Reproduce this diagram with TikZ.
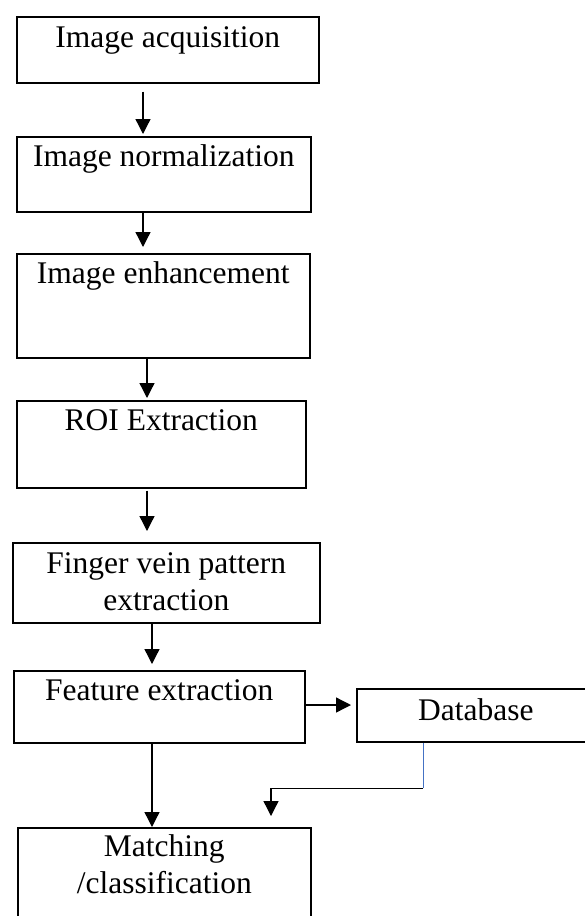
\documentclass[tikz,border=0pt]{standalone}
\usepackage{fontspec}
\setmainfont{Liberation Serif}
\usetikzlibrary{arrows.meta}
\begin{document}
\begin{tikzpicture}[x=1pt,y=-1pt,
  box/.style={draw, line width=1.6pt, inner sep=0pt, anchor=north west},
  lbl/.style={font=\fontsize{31.5}{37}\selectfont, align=center, anchor=base, inner sep=0pt},
  arr/.style={line width=1.3pt, -{Triangle[length=15pt,width=15pt]}},
  link/.style={line width=1pt},
  dblink/.style={line width=1pt, draw={rgb,255:red,68;green,114;blue,196}}]
\clip (0,0) rectangle (585,916);

% process boxes
\node[box, minimum width=302pt, minimum height=66pt]  (b1) at (16,16)  {};
\node[box, minimum width=294pt, minimum height=75pt]  (b2) at (16,136) {};
\node[box, minimum width=293pt, minimum height=104pt] (b3) at (16,253) {};
\node[box, minimum width=289pt, minimum height=87pt]  (b4) at (16,400) {};
\node[box, minimum width=307pt, minimum height=80pt]  (b5) at (12,542) {};
\node[box, minimum width=291pt, minimum height=72pt]  (b6) at (13,670) {};
\node[box, minimum width=238pt, minimum height=53pt]  (db) at (356,688) {};
\node[box, minimum width=293pt, minimum height=110pt] (b8) at (17,827) {};

% labels, set near the top of each box (base = last line)
\node[lbl] (t1) at ([yshift=-31pt]b1.north) {Image acquisition};
\node[lbl] (t2) at ([yshift=-30pt]b2.north) {Image normalization};
\node[lbl] (t3) at ([yshift=-30pt]b3.north) {Image enhancement};
\node[lbl] (t4) at ([yshift=-30pt]b4.north) {ROI Extraction};
\node[lbl] (t5) at ([yshift=-68pt]b5.north) {Finger vein pattern\\extraction};
\node[lbl] (t6) at ([yshift=-30pt]b6.north) {Feature extraction};
\node[lbl] (t7) at ([yshift=-32pt]db.north) {Database};
\node[lbl] (t8) at ([yshift=-66pt]b8.north) {Matching\\/classification};

% x positions of the vertical arrows
\coordinate (c1) at (143,0);
\coordinate (c3) at (147,0);
\coordinate (c5) at (152,0);

\draw[arr, shorten <=8pt, shorten >=2pt] (b1.south -| c1) -- (b2.north -| c1);
\draw[arr, shorten >=6pt] (b2.south -| c1) -- (b3.north -| c1);
\draw[arr, shorten >=2pt] (b3.south -| c3) -- (b4.north -| c3);
\draw[arr, shorten <=2pt, shorten >=11pt] (b4.south -| c3) -- (b5.north -| c3);
\draw[arr, shorten >=6pt] (b5.south -| c5) -- (b6.north -| c5);
\draw[arr] (b6.south -| c5) -- (b8.north -| c5);

% feature extraction to database
\coordinate (fy) at (0,705);
\draw[arr, shorten >=5pt] (b6.east |- fy) -- (db.west |- fy);

% database back towards matching
\coordinate (dbx) at (423,788);
\coordinate (dbl) at (271,788);
\coordinate (dbtip) at (271,816);
\draw[dblink] (db.south -| dbx) -- (dbx);
\draw[link] (dbx) -- (dbl);
\draw[arr] (dbl) -- (dbtip);
\end{tikzpicture}
\end{document}
